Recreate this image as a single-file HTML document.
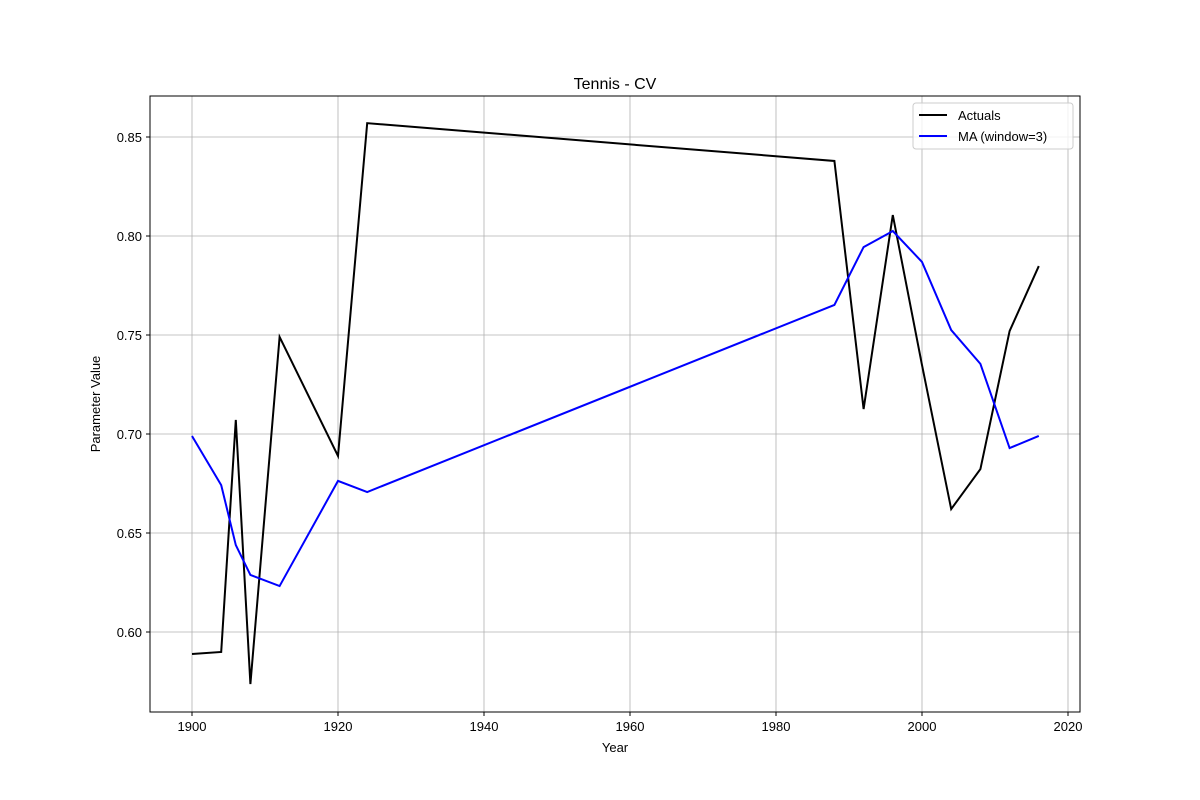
<!DOCTYPE html>
<html><head><meta charset="utf-8"><style>
body{margin:0;background:#fff;}
svg{display:block;font-family:"Liberation Sans","DejaVu Sans",sans-serif;}
</style></head><body>
<svg id="chart" width="1200" height="800" xmlns="http://www.w3.org/2000/svg">
<rect width="1200" height="800" fill="#fff"/>
<text x="615" y="89" text-anchor="middle" font-size="16">Tennis - CV</text>
<g id="grid"></g>
<g id="ticks"></g>
<g id="series"></g>
<rect x="150" y="96" width="930" height="616" fill="none" stroke="#000" stroke-width="1"/>
<text x="615" y="752" text-anchor="middle" font-size="13">Year</text>
<text x="100" y="404" text-anchor="middle" font-size="13" transform="rotate(-90 100 404)">Parameter Value</text>
<g>
<rect x="913" y="103" width="160" height="46" rx="3" fill="#fff" fill-opacity="0.8" stroke="#ccc"/>
<line x1="919" y1="115" x2="947" y2="115" stroke="#000" stroke-width="2"/>
<text x="958" y="120" font-size="13">Actuals</text>
<line x1="919" y1="136" x2="947" y2="136" stroke="#0000ff" stroke-width="2"/>
<text x="958" y="141" font-size="13">MA (window=3)</text>
</g>
</svg>
<script>
const years=[1900,1904,1906,1908,1912,1920,1924,1988,1992,1996,2000,2004,2008,2012,2016];
const actuals=[0.5889,0.5899,0.7071,0.5737,0.749,0.6889,0.857,0.8379,0.7126,0.8106,0.7348,0.6621,0.6823,0.752,0.7848];
const maValues=[0.699,0.6742,0.6439,0.6288,0.6232,0.6763,0.6707,0.7652,0.7944,0.8025,0.7869,0.7525,0.7354,0.6929,0.699];
const xTicks=[1900,1920,1940,1960,1980,2000,2020];
const yTicks=[0.60,0.65,0.70,0.75,0.80,0.85];
const NS="http://www.w3.org/2000/svg";
const xs=v=>192+(v-1900)*7.3;
const ys=v=>632-(v-0.60)*1980;
const grid=document.getElementById('grid'),ticks=document.getElementById('ticks'),series=document.getElementById('series');
function mk(tag,attrs,parent){const e=document.createElementNS(NS,tag);for(const k in attrs)e.setAttribute(k,attrs[k]);parent.appendChild(e);return e;}
xTicks.forEach(t=>{const x=xs(t);
const g=mk('line',{x1:x,x2:x,y1:96,y2:712,stroke:'#b0b0b0','stroke-width':0.8},grid);


mk('line',{x1:x,x2:x,y1:712,y2:716,stroke:'#000'},ticks);
const tx=mk('text',{x:x,y:731,'text-anchor':'middle','font-size':13},ticks);tx.textContent=t;

});
yTicks.forEach(t=>{const y=ys(t);
const g=mk('line',{x1:150,x2:1080,y1:y,y2:y,stroke:'#b0b0b0','stroke-width':0.8},grid);


mk('line',{x1:146,x2:150,y1:y,y2:y,stroke:'#000'},ticks);
const tx=mk('text',{x:142,y:y+5,'text-anchor':'end','font-size':13},ticks);tx.textContent=t.toFixed(2);

});
function line(vals,color,name){const p=mk('polyline',{points:years.map((y,i)=>xs(y)+','+ys(vals[i])).join(' '),fill:'none',stroke:color,'stroke-width':2},series);

}
line(actuals,'#000','actuals-line');
line(maValues,'#0000ff','ma-line');
</script>
</body></html>
